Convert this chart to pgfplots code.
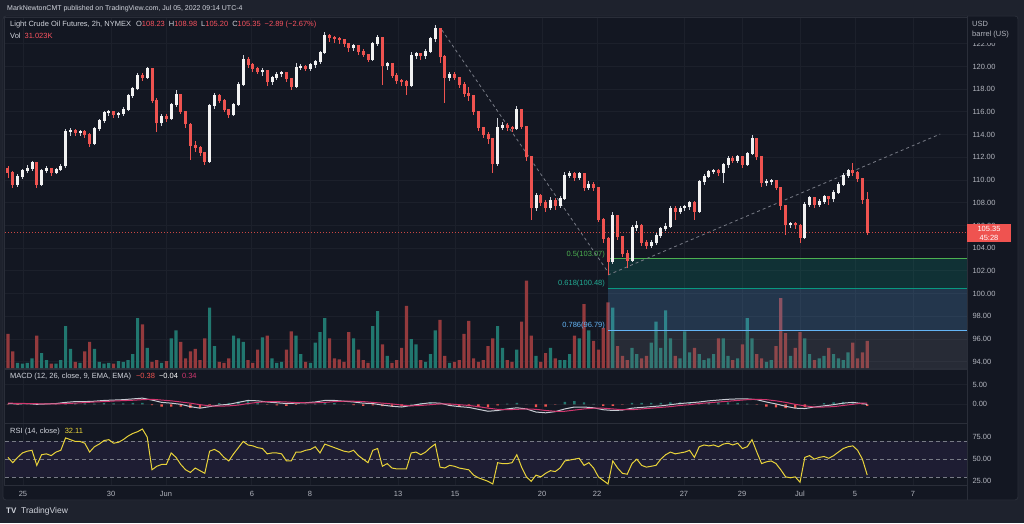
\documentclass[border=0pt]{standalone}
\usepackage{pgfplots}
\pgfplotsset{compat=1.18}
\usepackage{pgfplotstable}
\usepackage{fontspec}
\setmainfont{Liberation Sans}
\definecolor{outerbg}{HTML}{1E222D}
\definecolor{chartbg}{HTML}{131722}
\definecolor{gridc}{HTML}{1C202B}
\definecolor{sepc}{HTML}{2A2E39}
\definecolor{txt}{HTML}{B2B5BE}
\definecolor{txtw}{HTML}{D1D4DC}
\definecolor{upc}{HTML}{F2F2F2}
\definecolor{upw}{HTML}{C9CCD4}
\definecolor{dnc}{HTML}{EF5350}
\definecolor{volup}{HTML}{21776F}
\definecolor{voldn}{HTML}{943A3D}
\definecolor{fibg}{HTML}{4CAF50}
\definecolor{fibt}{HTML}{089981}
\definecolor{fibtl}{HTML}{22AB94}
\definecolor{fibb}{HTML}{64B5F6}
\definecolor{fibgray}{HTML}{787B86}
\definecolor{valred}{HTML}{F7525F}
\definecolor{rsiy}{HTML}{E9D33A}
\definecolor{macdp}{HTML}{D0366E}
\definecolor{macdw}{HTML}{C8CBD3}
\definecolor{rsiband}{HTML}{1E1D33}

\pgfplotsset{
  onlyup/.style={restrict expr to domain={\thisrow{u}}{0.5:1.5}},
  onlydown/.style={restrict expr to domain={\thisrow{u}}{-0.5:0.5}},
  pane/.style={scale only axis, width=962pt, anchor=south west,
    xmin=-0.625, xmax=199.79,
    axis line style={sepc, line width=1pt},
    major tick length=0pt,
    xtick={3.125,21.46,32.92,50.83,62.92,81.25,93.125,111.25,122.71,140.83,152.92,165,176.46,188.54},
    xticklabels={},
    xmajorgrids,
    major grid style={gridc, line width=1pt},
    yticklabel pos=right,
    yticklabel style={/pgf/number format/fixed, /pgf/number format/fixed zerofill,
      /pgf/number format/precision=2, /pgf/number format/assume math mode=true,
      anchor=west, xshift=2pt, font=\fontsize{7.5}{9}\selectfont, text=txt},
  },
  mainbox/.style={scale only axis, width=962pt, height=350pt, anchor=south west, at={(5pt,155pt)},
    xmin=-0.625, xmax=199.79, hide axis},
  candle/.style={forget plot, draw=none, mark=none},
}

\pgfplotstableread{
i o h l c u v r
0 111.0 111.2 110.2 110.6 0 39 52
1 110.6 110.8 109.3 109.6 0 19 46
2 109.6 110.5 109.4 110.3 1 6 52
3 110.3 111.0 110.1 110.8 1 5 57
4 110.8 111.3 110.6 111.0 1 6 59
5 111.0 111.7 110.8 111.5 1 11 60
6 111.5 111.6 109.3 109.6 0 37 43
7 109.6 111.0 109.5 110.8 1 17 55
8 110.8 111.2 110.6 111.0 1 9 56
9 111.0 111.1 110.4 110.6 0 5 54
10 110.6 111.1 110.5 110.9 1 5 58
11 110.9 111.4 110.8 111.2 1 9 60
12 111.2 114.5 111.1 114.2 1 48 74
13 114.2 114.6 113.9 114.3 1 22 72
14 114.3 114.5 113.9 114.1 0 7 70
15 114.1 114.4 113.9 114.2 1 6 70
16 114.2 114.4 113.7 114.0 0 19 68
17 114.0 114.1 112.9 113.2 0 30 58
18 113.2 114.7 113.1 114.5 1 22 64
19 114.5 115.4 114.3 115.2 1 7 67
20 115.2 116.1 115.0 115.9 1 5 71
21 115.9 116.2 115.6 116.0 1 6 72
22 116.0 116.1 115.5 115.7 0 5 68
23 115.7 116.0 115.5 115.8 1 8 69
24 115.8 116.4 115.6 116.2 1 7 72
25 116.2 117.6 116.1 117.4 1 9 76
26 117.4 118.2 117.2 118.0 1 16 79
27 118.0 119.4 117.9 119.2 1 57 81
28 119.2 119.4 118.7 119.0 0 50 84
29 119.0 120.0 118.9 119.8 1 23 75
30 119.8 119.9 116.8 117.0 0 7 38
31 117.0 117.2 114.2 115.0 0 9 42
32 115.0 115.8 114.8 115.6 1 6 44
33 115.6 115.8 115.1 115.4 0 8 44
34 115.4 116.8 115.3 116.6 1 34 57
35 116.6 117.9 116.4 117.5 1 43 52
36 117.5 117.6 115.8 116.0 0 30 44
37 116.0 116.1 114.6 114.9 0 11 38
38 114.9 115.0 111.8 113.0 0 19 35
39 113.0 113.4 112.5 112.8 0 22 40
40 112.8 113.0 112.1 112.4 0 9 37
41 112.4 112.5 111.3 111.6 0 34 34
42 111.6 116.7 111.5 116.5 1 69 59
43 116.5 117.7 116.3 117.4 1 25 61
44 117.4 117.6 116.8 117.0 0 7 58
45 117.0 117.1 116.0 116.2 0 6 52
46 116.2 116.3 115.5 115.7 0 11 48
47 115.7 116.8 115.6 116.6 1 37 56
48 116.6 118.6 116.5 118.4 1 34 63
49 118.4 121.0 118.3 120.6 1 30 70
50 120.6 120.8 119.9 120.1 0 9 66
51 120.1 120.3 119.5 119.8 0 6 65
52 119.8 120.0 119.3 119.5 0 21 63
53 119.5 119.9 119.2 119.6 1 35 62
54 119.6 119.7 118.3 118.6 0 37 56
55 118.6 119.2 118.4 119.0 1 11 57
56 119.0 119.5 118.8 119.3 1 6 57
57 119.3 119.6 119.1 119.4 1 7 56
58 119.4 119.5 118.6 118.9 0 21 48
59 118.9 119.0 117.9 118.2 0 42 48
60 118.2 120.3 118.1 119.9 1 37 58
61 119.9 120.2 119.7 120.0 1 16 58
62 120.0 120.1 119.6 119.8 0 7 60
63 119.8 120.3 119.6 120.1 1 6 61
64 120.1 120.6 119.9 120.4 1 29 64
65 120.4 121.4 120.2 121.2 1 41 57
66 121.2 123.0 121.1 122.7 1 57 67
67 122.7 122.9 122.2 122.5 0 34 65
68 122.5 122.7 122.1 122.4 0 11 63
69 122.4 122.6 122.0 122.3 0 10 61
70 122.3 122.4 121.7 122.0 0 7 59
71 122.0 122.1 121.3 121.6 0 41 58
72 121.6 122.0 121.4 121.8 1 34 60
73 121.8 121.9 121.0 121.3 0 21 54
74 121.3 121.5 120.8 121.0 0 9 50
75 121.0 121.1 120.4 120.6 0 6 46
76 120.6 122.2 120.5 122.0 1 48 60
77 122.0 122.8 121.8 122.5 1 65 62
78 122.5 122.6 118.4 120.0 0 27 42
79 120.0 120.4 119.7 120.2 1 14 45
80 120.2 120.3 119.0 119.2 0 6 40
81 119.2 119.4 118.5 118.7 0 9 39
82 118.7 118.9 118.3 118.6 0 23 39
83 118.6 118.8 117.5 118.3 0 71 39
84 118.3 121.3 118.2 120.9 1 33 57
85 120.9 121.3 120.7 121.1 1 27 58
86 121.1 121.2 120.6 120.9 0 9 55
87 120.9 121.5 120.7 121.3 1 7 58
88 121.3 122.6 121.2 122.4 1 16 63
89 122.4 123.65 122.2 123.3 1 43 67
90 123.3 123.4 120.3 120.8 0 55 41
91 120.8 121.0 116.8 119.0 0 14 40
92 119.0 119.5 118.7 119.3 1 6 43
93 119.3 119.5 118.8 119.0 0 7 42
94 119.0 119.1 118.1 118.4 0 9 40
95 118.4 118.6 117.3 117.6 0 39 39
96 117.6 118.2 117.0 117.4 0 54 38
97 117.4 117.5 115.7 116.0 0 11 32
98 116.0 116.1 114.3 114.6 0 7 29
99 114.6 114.7 113.7 114.0 0 9 27
100 114.0 114.2 113.2 113.6 0 25 25
101 113.6 113.7 110.6 111.4 0 34 22
102 111.4 115.5 111.2 114.6 1 48 46
103 114.6 115.1 114.4 114.8 1 23 45
104 114.8 115.0 114.3 114.6 0 9 45
105 114.6 114.8 114.2 114.5 0 7 46
106 114.5 116.5 114.4 116.2 1 21 55
107 116.2 116.3 114.5 114.7 0 53 41
108 114.7 114.8 111.7 112.0 0 100 30
109 112.0 112.1 106.5 107.5 0 37 25
110 107.5 108.9 107.3 108.6 1 14 32
111 108.6 108.8 107.7 108.0 0 7 30
112 108.0 108.2 107.2 107.5 0 17 34
113 107.5 108.5 107.4 108.2 1 23 37
114 108.2 108.4 107.4 107.7 0 11 36
115 107.7 108.6 107.5 108.3 1 9 40
116 108.3 110.7 108.2 110.4 1 9 48
117 110.4 110.8 110.2 110.5 1 16 49
118 110.5 110.7 109.9 110.2 0 37 50
119 110.2 110.7 110.0 110.5 1 34 51
120 110.5 110.6 109.0 109.3 0 73 43
121 109.3 109.9 109.1 109.6 1 43 46
122 109.6 109.8 109.0 109.3 0 31 40
123 109.3 109.4 106.3 106.5 0 21 30
124 106.5 106.7 104.5 104.8 0 46 26
125 104.8 105.0 101.6 102.8 0 75 22
126 102.8 107.2 102.6 106.8 1 69 48
127 106.8 106.9 104.7 105.0 0 25 40
128 105.0 105.1 103.2 103.5 0 14 34
129 103.5 103.8 102.3 102.9 0 9 33
130 102.9 106.0 102.8 105.8 1 23 45
131 105.8 106.4 105.5 106.0 1 16 50
132 106.0 106.1 104.2 104.5 0 11 43
133 104.5 104.7 103.9 104.2 0 14 41
134 104.2 104.7 104.0 104.5 1 29 42
135 104.5 105.3 104.3 105.1 1 53 43
136 105.1 105.9 104.9 105.7 1 23 50
137 105.7 106.2 105.5 105.9 1 66 55
138 105.9 107.7 105.8 107.5 1 34 58
139 107.5 107.7 106.5 107.2 0 14 56
140 107.2 107.7 107.0 107.5 1 11 57
141 107.5 107.8 107.3 107.6 1 42 58
142 107.6 108.2 107.4 108.0 1 18 60
143 108.0 108.2 106.5 107.2 0 23 52
144 107.2 110.0 107.1 109.8 1 16 64
145 109.8 110.5 109.6 110.3 1 9 66
146 110.3 110.9 110.2 110.7 1 11 65
147 110.7 111.0 110.5 110.8 1 16 66
148 110.8 111.0 110.4 110.6 0 34 64
149 110.6 111.5 109.7 111.3 1 34 67
150 111.3 112.1 111.1 111.9 1 14 68
151 111.9 112.1 111.5 111.7 0 9 66
152 111.7 112.2 111.5 112.0 1 11 68
153 112.0 112.1 111.1 111.3 0 27 62
154 111.3 112.5 111.2 112.3 1 57 64
155 112.3 114.0 112.2 113.6 1 34 72
156 113.6 113.7 111.8 112.0 0 16 58
157 112.0 112.1 109.4 109.7 0 11 45
158 109.7 110.1 109.5 109.8 1 7 47
159 109.8 110.1 109.6 109.9 1 9 48
160 109.9 110.0 109.1 109.3 0 25 45
161 109.3 109.4 107.4 107.7 0 80 38
162 107.7 107.8 105.2 106.0 0 40 30
163 106.0 106.3 105.8 106.1 1 14 29
164 106.1 106.3 105.7 106.0 0 23 30
165 106.0 106.1 104.5 104.9 0 41 24
166 104.9 108.1 104.8 107.8 1 34 52
167 107.8 108.6 107.6 108.4 1 16 54
168 108.4 108.5 107.5 107.8 0 9 50
169 107.8 108.3 107.6 108.1 1 11 52
170 108.1 108.7 107.9 108.5 1 14 53
171 108.5 108.6 107.8 108.3 0 23 51
172 108.3 109.1 108.1 108.9 1 16 54
173 108.9 109.8 108.8 109.6 1 11 58
174 109.6 110.6 109.5 110.4 1 9 62
175 110.4 111.0 110.2 110.8 1 18 64
176 110.8 111.5 110.4 110.6 0 29 65
177 110.6 110.8 109.8 110.1 0 11 60
178 110.1 110.2 107.9 108.23 0 18 50
179 108.23 108.98 105.20 105.35 0 31.023 32.11
}\candles

\pgfplotstableread{
i m s
0 0.2 0.3
2 0.1 0.25
4 0.2 0.2
6 0.0 0.15
8 0.1 0.1
10 0.2 0.1
12 0.5 0.2
14 0.7 0.3
16 0.7 0.45
18 0.8 0.6
20 1.0 0.7
22 1.1 0.85
24 1.2 0.95
26 1.4 1.05
28 1.6 1.2
30 1.1 1.3
32 0.5 1.1
34 0.3 0.9
36 0.0 0.6
38 -0.6 0.3
40 -1.0 -0.1
42 -0.6 -0.4
44 -0.2 -0.5
46 0.0 -0.4
48 0.5 -0.2
50 1.0 0.2
52 0.9 0.5
54 0.6 0.7
56 0.4 0.7
58 0.2 0.6
60 0.3 0.45
62 0.4 0.4
64 0.6 0.4
66 1.0 0.5
68 1.0 0.7
70 0.8 0.8
72 0.6 0.8
74 0.3 0.7
76 0.2 0.5
78 -0.2 0.3
80 -0.5 0.1
82 -0.7 -0.2
84 -0.3 -0.4
86 0.1 -0.3
88 0.4 -0.1
90 0.3 0.1
92 -0.3 0.1
94 -0.6 -0.1
96 -0.8 -0.3
98 -1.3 -0.6
100 -1.8 -1.0
102 -1.6 -1.3
104 -1.2 -1.4
106 -0.9 -1.3
108 -1.2 -1.2
110 -2.0 -1.3
112 -2.2 -1.6
114 -1.9 -1.8
116 -1.2 -1.8
118 -0.7 -1.5
120 -0.7 -1.2
122 -0.9 -1.0
124 -1.4 -1.0
126 -1.6 -1.2
128 -1.5 -1.4
130 -1.0 -1.4
132 -0.8 -1.2
134 -0.6 -1.0
136 -0.4 -0.8
138 -0.1 -0.6
140 0.2 -0.3
142 0.4 -0.1
144 0.6 0.2
146 0.9 0.4
148 1.1 0.6
150 1.3 0.8
152 1.4 1.0
154 1.4 1.2
156 1.2 1.3
158 0.6 1.2
160 0.1 0.9
162 -0.5 0.5
164 -1.0 0.0
166 -1.1 -0.4
168 -0.7 -0.7
170 -0.4 -0.7
172 -0.1 -0.6
174 0.3 -0.3
176 0.5 0.0
178 0.2 0.3
179 -0.04 0.34
}\macd

\begin{document}
\begin{tikzpicture}
\fill[outerbg] (0pt,0pt) rectangle (1024pt,523pt);
\fill[chartbg, rounded corners=3pt] (3pt,23pt) rectangle (1018pt,507pt);
\draw[sepc, line width=0.8pt, rounded corners=3pt] (3pt,23pt) rectangle (1018pt,507pt);

% main pane: grid and price scale
\begin{axis}[pane, at={(5pt,155pt)}, height=350pt, ymin=93.45, ymax=124.27,
  ytick={94,96,...,122}, ymajorgrids]
\addplot[draw=none, mark=none] coordinates {(0,100)};
\end{axis}

% volume
\begin{axis}[mainbox, ymin=0, ymax=400]
\addplot[ybar, bar width=3.2pt, bar shift=0pt, fill=volup, draw=none, onlyup] table[x=i,y=v]{\candles};
\addplot[ybar, bar width=3.2pt, bar shift=0pt, fill=voldn, draw=none, onlydown] table[x=i,y=v]{\candles};
\end{axis}

% candles and drawings
\begin{axis}[mainbox, ymin=93.45, ymax=124.27]
\fill[fibt, opacity=0.2] (axis cs:125,100.48) rectangle (axis cs:199.79,103.07);
\fill[fibb, opacity=0.2] (axis cs:125,96.79) rectangle (axis cs:199.79,100.48);
\fill[fibgray, opacity=0.2] (axis cs:125,93.45) rectangle (axis cs:199.79,96.79);
\addplot[fibg, line width=1pt] coordinates {(125,103.07)(199.79,103.07)};
\addplot[fibt, line width=1pt] coordinates {(125,100.48)(199.79,100.48)};
\addplot[fibb, line width=1pt] coordinates {(125,96.79)(199.79,96.79)};
\node[anchor=south east, inner sep=1pt, text=fibg, font=\fontsize{7.5}{9}\selectfont] at (axis cs:124.6,103.07) {0.5(103.07)};
\node[anchor=south east, inner sep=1pt, text=fibtl, font=\fontsize{7.5}{9}\selectfont] at (axis cs:124.6,100.48) {0.618(100.48)};
\node[anchor=south east, inner sep=1pt, text=fibb, font=\fontsize{7.5}{9}\selectfont] at (axis cs:124.6,96.79) {0.786(96.79)};
\addplot[fibgray, line width=0.8pt, dash pattern=on 3pt off 3pt] coordinates {(90.4,123.21)(125,101.9)};
\addplot[fibgray, line width=0.8pt, dash pattern=on 3pt off 3pt] coordinates {(125,101.64)(194.2,114.05)};
\addplot[dnc!85!black, line width=0.8pt, dash pattern=on 1pt off 2pt] coordinates {(-0.625,105.35)(199.79,105.35)};
% wicks
\addplot[candle, onlyup, error bars/.cd, y dir=both, y explicit, error mark=none,
  error bar style={line width=0.8pt, draw=upw}]
  table[x=i, y expr={(\thisrow{h}+\thisrow{l})/2}, y error expr={(\thisrow{h}-\thisrow{l})/2}]{\candles};
\addplot[candle, onlydown, error bars/.cd, y dir=both, y explicit, error mark=none,
  error bar style={line width=0.8pt, draw=dnc}]
  table[x=i, y expr={(\thisrow{h}+\thisrow{l})/2}, y error expr={(\thisrow{h}-\thisrow{l})/2}]{\candles};
% bodies
\addplot[candle, onlyup, error bars/.cd, y dir=plus, y explicit, error mark=none,
  error bar style={line width=3pt, draw=upc}]
  table[x=i, y expr={min(\thisrow{o},\thisrow{c})}, y error expr={abs(\thisrow{c}-\thisrow{o})+0.08}]{\candles};
\addplot[candle, onlydown, error bars/.cd, y dir=plus, y explicit, error mark=none,
  error bar style={line width=3pt, draw=dnc}]
  table[x=i, y expr={min(\thisrow{o},\thisrow{c})}, y error expr={abs(\thisrow{c}-\thisrow{o})+0.08}]{\candles};
\end{axis}

% MACD pane
\begin{axis}[pane, at={(5pt,100pt)}, height=54pt, ymin=-4.84, ymax=9.14, ytick={0,5}, ymajorgrids]
\addplot[ybar, bar width=2.4pt, bar shift=0pt, fill=volup, draw=none] table[x=i, y expr={max(\thisrow{m}-\thisrow{s},0)}]{\macd};
\addplot[ybar, bar width=2.4pt, bar shift=0pt, fill=dnc, draw=none] table[x=i, y expr={min(\thisrow{m}-\thisrow{s},0)}]{\macd};
\addplot[macdw, line width=1pt, mark=none] table[x=i,y=m]{\macd};
\addplot[macdp, line width=1pt, mark=none] table[x=i,y=s]{\macd};
\end{axis}

% RSI pane
\begin{axis}[pane, at={(5pt,37.7pt)}, height=62.3pt, ymin=20.5, ymax=90.8, ytick={25,50,75},
  xticklabels={25,30,Jun,6,8,13,15,20,22,27,29,Jul,5,7},
  xticklabel style={anchor=base, yshift=-11pt, font=\fontsize{7.5}{9}\selectfont, text=txt}]
\fill[rsiband] (axis cs:-0.625,30) rectangle (axis cs:199.79,70);
\draw[fibgray, line width=0.6pt, dash pattern=on 4pt off 3pt] (axis cs:-0.625,70) -- (axis cs:199.79,70);
\draw[fibgray, line width=0.6pt, dash pattern=on 4pt off 3pt] (axis cs:-0.625,50) -- (axis cs:199.79,50);
\draw[fibgray, line width=0.6pt, dash pattern=on 4pt off 3pt] (axis cs:-0.625,30) -- (axis cs:199.79,30);
\addplot[rsiy, line width=1pt, mark=none] table[x=i,y=r]{\candles};
\end{axis}

\draw[sepc, line width=1pt] (967pt,23pt) -- (967pt,507pt);

% right scale header
\fill[chartbg] (968pt,480pt) rectangle (1017pt,506pt);
\node[anchor=west, inner sep=0, text=txt, font=\fontsize{7.5}{9}\selectfont] at (972pt,499pt) {USD};
\node[anchor=west, inner sep=0, text=txt, font=\fontsize{7.5}{9}\selectfont] at (972pt,488pt) {barrel (US)};

% last price tag
\fill[dnc] (967pt,281pt) rectangle (1011pt,299pt);
\node[text=white, inner sep=0, font=\fontsize{7.5}{9}\selectfont] at (989pt,294.3pt) {105.35};
\node[text=white, inner sep=0, font=\fontsize{7.5}{9}\selectfont] at (989pt,285.3pt) {45:28};

% header and legends
\node[anchor=west, inner sep=0, text=txtw, font=\fontsize{7}{8}\selectfont] at (7pt,514pt) {MarkNewtonCMT published on TradingView.com, Jul 05, 2022 09:14 UTC-4};
\node[anchor=west, inner sep=0, text=txtw, font=\fontsize{7.5}{9}\selectfont] at (10pt,498.5pt) {Light Crude Oil Futures, 2h, NYMEX\hspace{5pt}O\textcolor{valred}{108.23}\hspace{4pt}H\textcolor{valred}{108.98}\hspace{4pt}L\textcolor{valred}{105.20}\hspace{4pt}C\textcolor{valred}{105.35}\hspace{4pt}\textcolor{valred}{−2.89 (−2.67\%)}};
\node[anchor=west, inner sep=0, text=txtw, font=\fontsize{7.5}{9}\selectfont] at (10pt,487pt) {Vol\hspace{4pt}\textcolor{valred}{31.023K}};
\node[anchor=west, inner sep=0, text=txtw, font=\fontsize{7.5}{9}\selectfont] at (10pt,146pt) {MACD (12, 26, close, 9, EMA, EMA)\hspace{5pt}\textcolor{dnc}{−0.38}\hspace{4pt}\textcolor{white}{−0.04}\hspace{4pt}\textcolor{macdp}{0.34}};
\node[anchor=west, inner sep=0, text=txtw, font=\fontsize{7.5}{9}\selectfont] at (10pt,91pt) {RSI (14, close)\hspace{5pt}\textcolor{rsiy}{32.11}};

% footer
\node[anchor=west, inner sep=0, text=txtw, font=\bfseries\fontsize{8}{9}\selectfont] at (6pt,12pt) {TV};
\node[anchor=west, inner sep=0, text=txtw, font=\fontsize{8.5}{9}\selectfont] at (21pt,12pt) {TradingView};

\pgfresetboundingbox
\path (0pt,0pt) rectangle (1024pt,523pt);
\end{tikzpicture}
\end{document}
